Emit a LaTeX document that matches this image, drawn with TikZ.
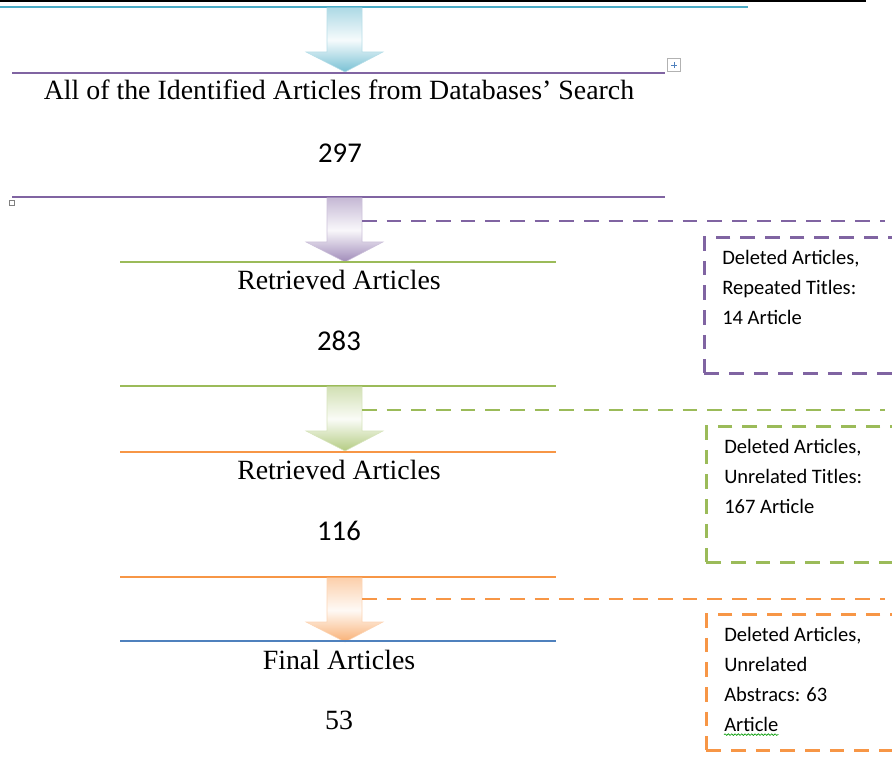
\documentclass[tikz,border=0pt]{standalone}
\usepackage{fontspec}
\setmainfont{Liberation Serif}
\newfontfamily\calibri{Carlito}
\usetikzlibrary{positioning,decorations.pathmorphing}
\definecolor{aqua}{HTML}{4BACC6}
\definecolor{plum}{HTML}{8064A2}
\definecolor{olive}{HTML}{9BBB59}
\definecolor{amber}{HTML}{F79646}
\definecolor{steel}{HTML}{4F81BD}
% block arrow pointing down, #1 = top of shaft, #2 = colour
\newcommand{\flowarrow}[2]{%
  \path[top color=#2!45, bottom color=#2!75, middle color=#2!5, draw=#2!40, line width=0.4pt]
    (327,#1) -- (362,#1) -- (362,{#1+44}) -- (383,{#1+44}) -- (345,{#1+64})
    -- (306,{#1+44}) -- (327,{#1+44}) -- cycle;}

\begin{document}
\begin{tikzpicture}[x=0.75pt, y=-0.75pt,
  rule/.style={line width=1.5pt},
  head/.style={font=\fontsize{20.9}{24}\selectfont, inner sep=0pt},
  count/.style={font=\calibri\fontsize{21.5}{24}\selectfont, inner sep=0pt},
  cut/.style={line width=2.2pt, dash pattern=on 11pt off 7.5pt},
  delbox/.style={cut, draw=#1, minimum width=190pt, minimum height=102pt, anchor=north west, inner sep=0pt},
  note/.style={font=\calibri\fontsize{15.4}{22.5}\selectfont, align=left, inner sep=0pt}]
  \useasboundingbox (0,0) rectangle (892,762);
  \clip (0,0) rectangle (892,762);

  % top border and first block
  \draw[line width=1pt] (0,1) -- (866,1);
  \draw[rule, aqua] (0,7) -- (748,7);
  \flowarrow{8}{aqua}
  \draw[rule, plum] (12,73) -- (665,73);
  \node[draw=gray!60, fill=white, minimum size=10pt, inner sep=0pt] (handle) at (674,65) {};
  \draw[steel, line width=0.5pt] ([yshift=-3pt]handle.north) -- ([yshift=3pt]handle.south)
    ([xshift=3pt]handle.west) -- ([xshift=-3pt]handle.east);
  \node[head] (all) at (339,90) {All of the Identified Articles from Databases{\char39} Search};
  \node[count] (n297) at (340,153) {297};
  \draw[rule, plum] (12,197) -- (665,197);
  \node[draw=gray, line width=0.4pt, minimum size=3.5pt, inner sep=0pt] (corner) at (12,203) {};

  % repeated titles
  \flowarrow{198}{plum}
  \coordinate (cut1) at (362,221);
  \draw[cut, plum] (cut1) -- (885,221);
  \node[delbox=plum] (box1) at (703,236) {};
  \node[note, below right=10.5pt and 14.25pt of box1.north west] (del1)
    {Deleted Articles,\\Repeated Titles:\\14 Article};
  \draw[rule, olive] (120,262) -- (556,262);
  \node[head] (ret1) at (339,280) {Retrieved Articles};
  \node[count] (n283) at (339,341) {283};
  \draw[rule, olive] (120,386) -- (556,386);

  % unrelated titles
  \flowarrow{387}{olive}
  \coordinate (cut2) at (362,410);
  \draw[cut, olive] (cut2) -- (885,410);
  \node[delbox=olive] (box2) at (705,425) {};
  \node[note, below right=10.5pt and 14.25pt of box2.north west] (del2)
    {Deleted Articles,\\Unrelated Titles:\\167 Article};
  \draw[rule, amber] (120,452) -- (556,452);
  \node[head] (ret2) at (339,470) {Retrieved Articles};
  \node[count] (n116) at (339,531) {116};
  \draw[rule, amber] (120,577) -- (556,577);

  % unrelated abstracts
  \flowarrow{578}{amber}
  \coordinate (cut3) at (362,599);
  \draw[cut, amber] (cut3) -- (885,599);
  \node[delbox=amber] (box3) at (705,613) {};
  \node[note, below right=10.5pt and 14.25pt of box3.north west] (del3)
    {Deleted Articles,\\Unrelated\\Abstracs: 63\\Article};
  \draw[green!60!black, line width=0.5pt, decorate, decoration={snake, amplitude=0.6pt, segment length=2.5pt}]
    ([yshift=-2pt]del3.south west) -- ++(41pt,0);
  \draw[rule, steel] (120,641) -- (556,641);
  \node[head] (fin) at (339,660) {Final Articles};
  \node[head] (n53) at (339,720) {53};
\end{tikzpicture}
\end{document}
